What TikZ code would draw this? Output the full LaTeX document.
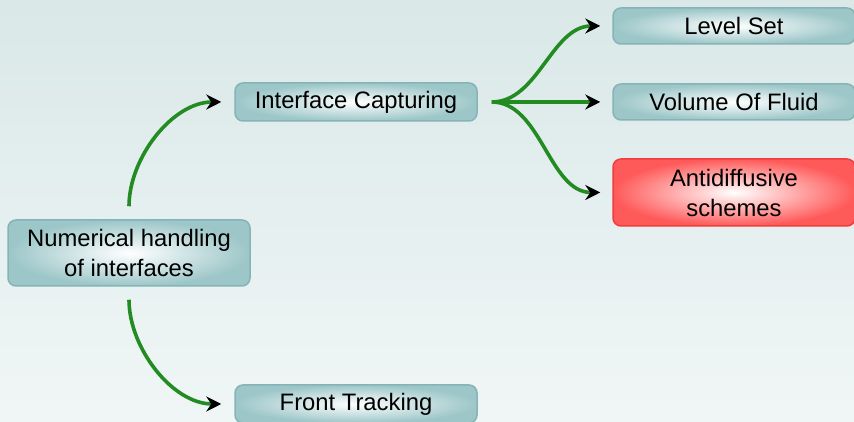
\documentclass[tikz,border=0pt]{standalone}
\usepackage{fontspec}
\setmainfont{Liberation Sans}
\usetikzlibrary{arrows.meta}
\definecolor{bgtop}{HTML}{DAE8E8}
\definecolor{bgbot}{HTML}{F0F6F6}
\definecolor{boxout}{HTML}{9CC6C8}
\definecolor{boxdraw}{HTML}{86B4B6}
\definecolor{redout}{HTML}{FF5A5A}
\definecolor{reddraw}{HTML}{F03C3C}
\definecolor{arrgreen}{HTML}{228B22}
\tikzset{
  box/.style={draw=boxdraw, line width=1.5pt, rounded corners=8pt,
    inner color=white, outer color=boxout, minimum width=242pt,
    minimum height=38pt, align=center, inner sep=0pt,
    font=\fontsize{23.8}{30}\selectfont},
  redbox/.style={box, draw=reddraw, outer color=redout},
  conn/.style={draw=arrgreen, line width=3.6pt,
    -{Stealth[black, length=15pt, width=15pt, inset=5pt]}},
}
\begin{document}
\begin{tikzpicture}[x=1pt,y=1pt]
\shade[top color=bgtop, bottom color=bgbot] (0,0) rectangle (854,422);
\useasboundingbox (0,0) rectangle (854,422);
\node[box, minimum height=66pt] (num) at (129,169) {Numerical handling\\of interfaces};
\node[box] (ic) at (356,320) {Interface Capturing};
\node[box] (ft) at (356,18) {Front Tracking};
\node[box, minimum height=36pt] (ls) at (734,396) {Level Set};
\node[box, minimum height=36pt] (vof) at (734,320) {Volume Of Fluid};
\node[redbox, minimum height=67pt] (ad) at (734,229.5) {Antidiffusive\\schemes};
\draw[conn, shorten <=13pt, shorten >=13pt] (num.north) to[out=90,in=180] (ic.west);
\draw[conn, shorten <=13pt, shorten >=13pt] (num.south) to[out=-90,in=180] (ft.west);
\draw[conn, shorten <=14pt, shorten >=12pt] (ic.east) to[out=0,in=180] (ls.west);
\draw[conn, shorten <=14pt, shorten >=12pt] (ic.east) -- (vof.west);
\draw[conn, shorten <=14pt, shorten >=12pt] (ic.east) to[out=0,in=180] (ad.west);
\end{tikzpicture}
\end{document}
